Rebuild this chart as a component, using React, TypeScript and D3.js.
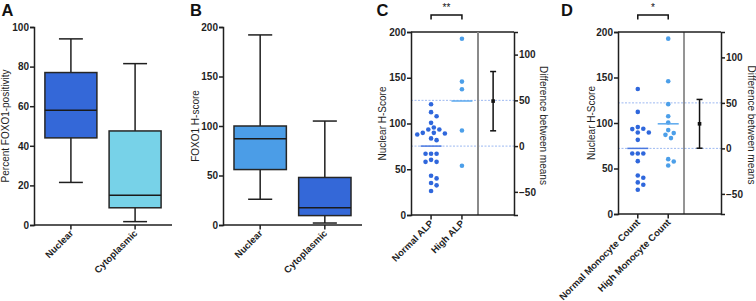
import React, { useEffect, useRef } from 'react';
import * as d3 from 'd3';

const W = 756;
const H = 301;
const FONT = '"Liberation Sans", Arial, Helvetica, sans-serif';
const INK = '#1f1f1f';

// A / B: box plots of FOXO1 staining
const boxCategories = ['Nuclear', 'Cytoplasmic'];
const positivityStats = [
  { min: 21.5, q1: 44, median: 58, q3: 77, max: 94 },
  { min: 1.7, q1: 8.7, median: 15, q3: 47.5, max: 81.5 },
];
const positivityTicks = [0, 20, 40, 60, 80, 100];
const positivityColors = ['#3468d8', '#77d2e8'];

const hscoreStats = [
  { min: 26, q1: 56, median: 87, q3: 100, max: 192 },
  { min: 2, q1: 9.5, median: 17.5, q3: 48, max: 105 },
];
const hscoreTicks = [0, 50, 100, 150, 200];
const hscoreColors = ['#4b9de7', '#3468d8'];

// C: nuclear H-score by ALP group
const alpGroups = ['Normal ALP', 'High ALP'];
const normalAlp = [121, 112.4, 108, 100.7, 95.7, 93.5, 93.5, 89.8, 89.8, 89.1, 88, 83.7, 81.8,
  67, 67, 67, 60.3, 58.1, 58.1, 42.9, 40, 34.9, 32.4, 26.2];
const highAlp = [192.7, 145.8, 137.5, 92.4, 53.8];
const alpMeans = [75.3, 124.6];
const alpDiff = { mean: 49.2, lo: 16.7, hi: 81.5 };
const alpStars = '**';

// D: nuclear H-score by monocyte count
const monoGroups = ['Normal Monocyte Count', 'High Monocyte Count'];
const normalMono = [137.4, 112.2, 95.5, 93.6, 93.3, 89.5, 89.5, 81.5, 66.5, 66.5, 66.5, 58.1,
  42.3, 39.8, 34.7, 32.2, 26.7];
const highMono = [192.7, 145.8, 120.7, 107.5, 100.5, 92.2, 88.9, 87, 83.4, 60.3, 57.7, 53.3];
const monoMeans = [72.1, 99.1];
const monoDiff = { mean: 27, lo: 0.2, hi: 53.8 };
const monoStars = '*';

const hscoreLeftTicks = [0, 50, 100, 150, 200];
const diffTicks = [-50, 0, 50, 100];
const diffGrid = [0, 50];
const groupColors = ['#2f67dc', '#4c9fe9'];
const meanColors = ['#4a78e0', '#5aa8ee'];

type Sel = d3.Selection<SVGGElement, unknown, null, undefined>;

// simple beeswarm: nudge points sideways until they stop overlapping
function swarm(values: number[], y: d3.ScaleLinear<number, number>, r: number) {
  const order = values.map((v, i) => i).sort((a, b) => values[b] - values[a]);
  const placed: { x: number; y: number }[] = [];
  const out: { v: number; dx: number }[] = [];
  const step = r * 1.2;
  order.forEach(i => {
    const py = y(values[i]);
    for (let k = 0; k < 40; k++) {
      const dx = k === 0 ? 0 : (k % 2 === 1 ? 1 : -1) * Math.ceil(k / 2) * step;
      const hit = placed.some(p => Math.hypot(p.x - dx, p.y - py) < r * 2.25);
      if (!hit) {
        placed.push({ x: dx, y: py });
        out.push({ v: values[i], dx });
        break;
      }
    }
  });
  return out;
}

function styleAxis(ax: d3.Selection<SVGGElement, unknown, null, undefined>) {
  ax.select('.domain').attr('stroke', INK).attr('stroke-width', 1.5);
  ax.selectAll('.tick line').attr('stroke', INK).attr('stroke-width', 1.5);
  ax.selectAll('.tick text')
    .attr('fill', INK)
    .style('font-family', FONT)
    .style('font-size', '10px')
    .style('font-weight', 'bold');
}

function leftAxis(g: Sel, y: d3.ScaleLinear<number, number>, x: number, ticks: number[]) {
  const ax = g.append('g')
    .attr('transform', `translate(${x},0)`)
    .call(d3.axisLeft(y).tickValues(ticks).tickSize(4).tickPadding(1).tickFormat(d3.format('d')));
  styleAxis(ax);
  return ax;
}

function bottomAxis(g: Sel, x: (d: string) => number, cats: string[], x0: number, x1: number, yPos: number) {
  g.append('line')
    .attr('x1', x0).attr('x2', x1).attr('y1', yPos).attr('y2', yPos)
    .attr('stroke', INK).attr('stroke-width', 1.5);
  cats.forEach(c => {
    const cx = x(c);
    g.append('line')
      .attr('x1', cx).attr('x2', cx).attr('y1', yPos).attr('y2', yPos + 4.5)
      .attr('stroke', INK).attr('stroke-width', 1.5);
    g.append('text')
      .attr('transform', `translate(${cx + 3},${yPos + 9}) rotate(-45)`)
      .attr('text-anchor', 'end')
      .attr('fill', INK)
      .style('font-family', FONT)
      .style('font-size', '9.5px')
      .style('font-weight', 'bold')
      .text(c);
  });
}

function yTitle(g: Sel, x: number, y: number, text: string, rot = -90) {
  g.append('text')
    .attr('transform', `translate(${x},${y}) rotate(${rot})`)
    .attr('text-anchor', 'middle')
    .attr('fill', INK)
    .style('font-family', FONT)
    .style('font-size', '10px')
    .text(text);
}

function panelLetter(g: Sel, x: number, text: string) {
  g.append('text')
    .attr('x', x).attr('y', 15.5)
    .attr('fill', '#111')
    .style('font-family', FONT)
    .style('font-size', '16.5px')
    .style('font-weight', 'bold')
    .text(text);
}

function boxPanel(
  g: Sel,
  frame: { left: number; right: number; top: number; bottom: number },
  stats: typeof positivityStats,
  colors: string[],
  ticks: number[],
  title: string,
  titleX: number,
) {
  const y = d3.scaleLinear().domain([0, ticks[ticks.length - 1]]).range([frame.bottom, frame.top]);
  const x = d3.scaleBand().domain(boxCategories).range([frame.left, frame.right])
    .paddingInner(0.19).paddingOuter(0.17);
  const bw = x.bandwidth();
  const capW = bw * 0.46;

  stats.forEach((s, i) => {
    const cx = x(boxCategories[i])! + bw / 2;
    const bg = g.append('g');
    bg.append('line')
      .attr('x1', cx).attr('x2', cx).attr('y1', y(s.max)).attr('y2', y(s.min))
      .attr('stroke', INK).attr('stroke-width', 1.5);
    [s.max, s.min].forEach(v => {
      bg.append('line')
        .attr('x1', cx - capW / 2).attr('x2', cx + capW / 2).attr('y1', y(v)).attr('y2', y(v))
        .attr('stroke', INK).attr('stroke-width', 1.5);
    });
    bg.append('rect')
      .attr('x', cx - bw / 2).attr('y', y(s.q3))
      .attr('width', bw).attr('height', y(s.q1) - y(s.q3))
      .attr('fill', colors[i])
      .attr('stroke', '#262626').attr('stroke-width', 1.5);
    bg.append('line')
      .attr('x1', cx - bw / 2).attr('x2', cx + bw / 2).attr('y1', y(s.median)).attr('y2', y(s.median))
      .attr('stroke', '#1a1a1a').attr('stroke-width', 1.5);
  });

  leftAxis(g, y, frame.left, ticks);
  bottomAxis(g, c => x(c)! + bw / 2, boxCategories, frame.left, frame.right, frame.bottom);
  yTitle(g, titleX, (frame.top + frame.bottom) / 2, title);
}

function dotPanel(
  g: Sel,
  frame: { left: number; divider: number; right: number; top: number; bottom: number },
  groups: string[],
  series: number[][],
  means: number[],
  diff: { mean: number; lo: number; hi: number },
  stars: string,
  dividerStyle: { color: string; width: number },
  titleX: number,
  rightTitleX: number,
) {
  const y = d3.scaleLinear().domain([0, 200]).range([frame.bottom, frame.top]);
  const yd = d3.scaleLinear().domain([-means[0], 200 - means[0]]).range([frame.bottom, frame.top]);
  const x = d3.scalePoint<string>().domain(groups).range([frame.left, frame.divider + 4]).padding(0.65);

  // reference lines on the difference axis
  diffGrid.forEach(v => {
    g.append('line')
      .attr('x1', frame.left).attr('x2', frame.right).attr('y1', yd(v)).attr('y2', yd(v))
      .attr('stroke', '#9db9f1').attr('stroke-width', 1).attr('stroke-dasharray', '2,1.5');
  });

  const r = 2.3;
  series.forEach((vals, i) => {
    const cx = x(groups[i])!;
    g.append('g').selectAll('circle')
      .data(swarm(vals, y, r))
      .join('circle')
      .attr('cx', d => cx + d.dx)
      .attr('cy', d => y(d.v))
      .attr('r', r)
      .attr('fill', groupColors[i]);
    g.append('line')
      .attr('x1', cx - 10.5).attr('x2', cx + 10.5).attr('y1', y(means[i])).attr('y2', y(means[i]))
      .attr('stroke', meanColors[i]).attr('stroke-width', 1.5);
  });

  // frame, divider and axes
  g.append('line')
    .attr('x1', frame.left).attr('x2', frame.right).attr('y1', frame.top).attr('y2', frame.top)
    .attr('stroke', INK).attr('stroke-width', 1.5);
  g.append('line')
    .attr('x1', frame.divider).attr('x2', frame.divider).attr('y1', frame.top).attr('y2', frame.bottom)
    .attr('stroke', dividerStyle.color).attr('stroke-width', dividerStyle.width);

  leftAxis(g, y, frame.left, hscoreLeftTicks);
  bottomAxis(g, c => x(c)!, groups, frame.left, frame.right, frame.bottom);

  const ra = g.append('g')
    .attr('transform', `translate(${frame.right},0)`)
    .call(d3.axisRight(yd).tickValues(diffTicks).tickSize(4).tickPadding(1).tickFormat(d3.format('d')));
  styleAxis(ra);

  // difference between means with its interval
  const ex = frame.divider + (frame.right - frame.divider) * 0.42;
  g.append('line')
    .attr('x1', ex).attr('x2', ex).attr('y1', yd(diff.hi)).attr('y2', yd(diff.lo))
    .attr('stroke', '#111').attr('stroke-width', 1.5);
  [diff.hi, diff.lo].forEach(v => {
    g.append('line')
      .attr('x1', ex - 3).attr('x2', ex + 3).attr('y1', yd(v)).attr('y2', yd(v))
      .attr('stroke', '#111').attr('stroke-width', 1.5);
  });
  g.append('rect')
    .attr('x', ex - 1.8).attr('y', yd(diff.mean) - 1.8).attr('width', 3.6).attr('height', 3.6)
    .attr('fill', '#111');

  // significance bracket
  const bx0 = x(groups[0])!;
  const bx1 = x(groups[1])!;
  g.append('path')
    .attr('d', `M${bx0},19.5 V15 H${bx1} V19.5`)
    .attr('fill', 'none').attr('stroke', '#111').attr('stroke-width', 1.5);
  g.append('text')
    .attr('x', (bx0 + bx1) / 2).attr('y', 11)
    .attr('text-anchor', 'middle')
    .attr('fill', '#111')
    .style('font-family', FONT)
    .style('font-size', '10px')
    .text(stars);

  yTitle(g, titleX, (frame.top + frame.bottom) / 2, 'Nuclear H-Score');
  yTitle(g, rightTitleX, (frame.top + frame.bottom) / 2 + 2, 'Difference between means', 90);
}

const App: React.FC = () => {
  const svgRef = useRef<SVGSVGElement>(null);

  useEffect(() => {
    const svg = d3.select(svgRef.current);
    svg.selectAll('*').remove();
    const root = svg.append('g') as unknown as Sel;

    // A
    panelLetter(root, 1.5, 'A');
    boxPanel(root, { left: 34, right: 172, top: 27, bottom: 225 },
      positivityStats, positivityColors, positivityTicks, 'Percent FOXO1-positivity', 9);

    // B
    panelLetter(root, 190, 'B');
    boxPanel(root, { left: 223, right: 362, top: 27, bottom: 225 },
      hscoreStats, hscoreColors, hscoreTicks, 'FOXO1 H-score', 199);

    // C
    panelLetter(root, 376.5, 'C');
    dotPanel(root, { left: 411, divider: 478, right: 514, top: 32, bottom: 215 },
      alpGroups, [normalAlp, highAlp], alpMeans, alpDiff, alpStars,
      { color: '#8a8a8a', width: 2 }, 386, 540);

    // D
    panelLetter(root, 561, 'D');
    dotPanel(root, { left: 618, divider: 684, right: 721, top: 32, bottom: 214 },
      monoGroups, [normalMono, highMono], monoMeans, monoDiff, monoStars,
      { color: '#2a2a2a', width: 1 }, 595, 747.5);
  }, []);

  return (
    <svg
      ref={svgRef}
      width={W}
      height={H}
      style={{ position: 'absolute', left: 0, top: 0, background: '#fff' }}
    />
  );
};

export default App;
